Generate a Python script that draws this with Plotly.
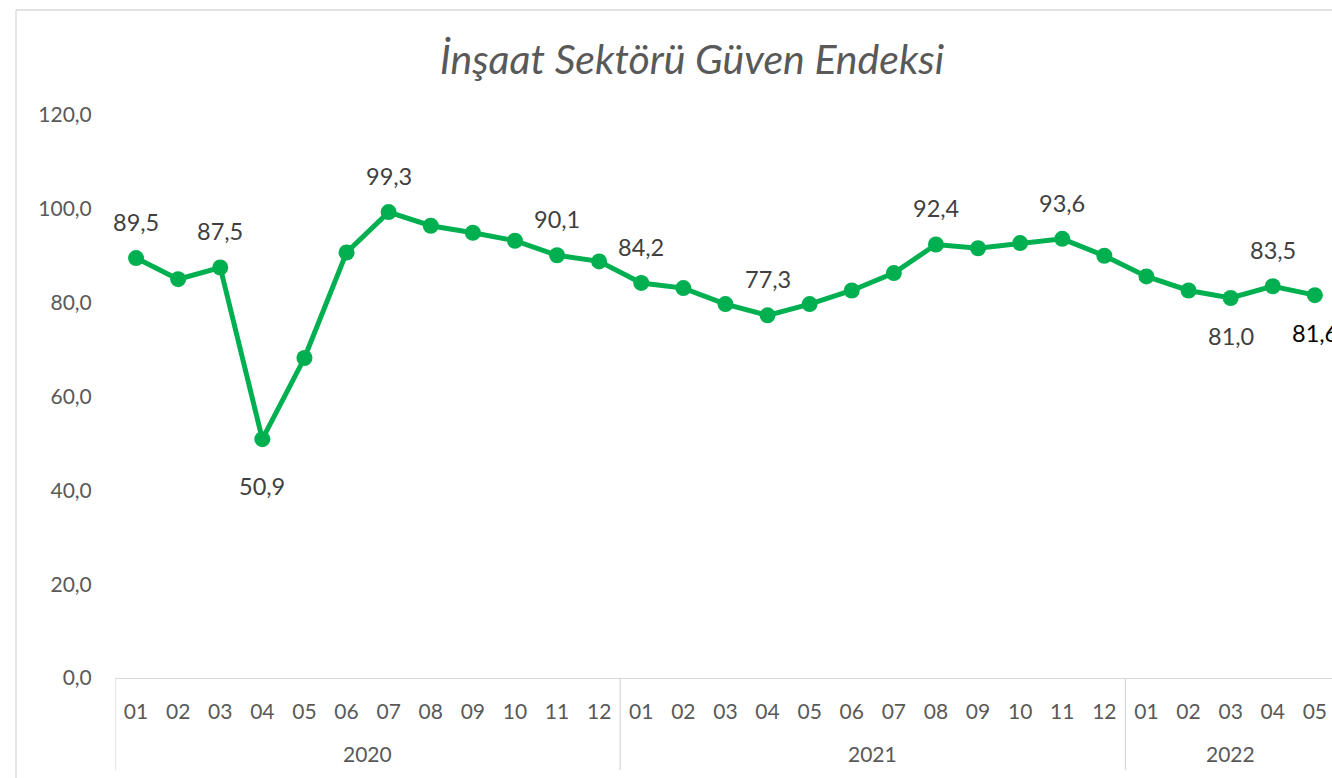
import plotly.graph_objects as go

months = ["01","02","03","04","05","06","07","08","09","10","11","12",
          "01","02","03","04","05","06","07","08","09","10","11","12",
          "01","02","03","04","05"]
years = ["2020", "2021", "2022"]
year_counts = [12, 12, 5]
values = [89.5, 85.0, 87.5, 50.9, 68.2, 90.7, 99.3, 96.4, 94.9, 93.2, 90.1, 88.8,
          84.2, 83.1, 79.7, 77.3, 79.7, 82.6, 86.3, 92.4, 91.6, 92.7, 93.6, 90.0,
          85.6, 82.6, 81.0, 83.5, 81.6]
# indices of points that carry a data label, and whether label sits above (1) or below (-1)
label_idx = [0, 2, 3, 6, 10, 12, 15, 19, 22, 26, 27, 28]
label_side = [1, 1, -1, 1, 1, 1, 1, 1, 1, -1, 1, -1]

W, H = 1332, 778
L, R, T, B = 115, 0, 115, 778 - 678
pw, ph = W - L - R, H - T - B
plot_bottom = 678
FONT = "Lato"
GREY = "#595959"
CAT_W = 42.1

x = list(range(len(values)))

fig = go.Figure()
fig.add_trace(go.Scatter(
    x=x, y=values, mode="lines+markers",
    line=dict(color="#00B050", width=5),
    marker=dict(color="#00B050", size=16),
    hoverinfo="skip", showlegend=False,
))

def fmt(v):
    return f"{v:.1f}".replace(".", ",")

for i, s in zip(label_idx, label_side):
    fig.add_annotation(
        x=x[i], y=values[i], text=fmt(values[i]), showarrow=False,
        yanchor="middle",
        yshift=36 if s > 0 else (-47 if values[i] < 60 else -38),
        font=dict(family=FONT, size=23.5, color="#000000" if i == len(values) - 1 else "#404040"),
    )

# year labels and dividers
start = 0
for yr, n in zip(years, year_counts):
    fig.add_annotation(
        x=start + (n - 1) / 2, y=(plot_bottom - 753) / ph, xref="x", yref="paper",
        text=yr, showarrow=False, yanchor="middle",
        font=dict(family=FONT, size=21, color=GREY),
    )
    fig.add_shape(type="line", xref="x", yref="paper",
                  x0=start - 0.5, x1=start - 0.5, y0=0, y1=(plot_bottom - 770) / ph,
                  line=dict(color="#d9d9d9", width=1.3))
    start += n

# outer chart border (left and top visible)
bx = (16 - L) / pw
by = (plot_bottom - 10) / ph
fig.add_shape(type="line", xref="paper", yref="paper", x0=bx, x1=bx, y0=-0.3, y1=by,
              line=dict(color="#d9d9d9", width=1.3))
fig.add_shape(type="line", xref="paper", yref="paper", x0=bx, x1=1.2, y0=by, y1=by,
              line=dict(color="#d9d9d9", width=1.3))

fig.update_layout(
    width=W, height=H,
    margin=dict(l=L, r=R, t=T, b=B),
    paper_bgcolor="white", plot_bgcolor="white",
    separators=",.",
    hovermode=False,
    title=dict(text="<i>İnşaat Sektörü Güven Endeksi</i>",
               x=692 / W, xanchor="center", y=1 - 60 / H, yanchor="middle",
               font=dict(family=FONT, size=41, color=GREY)),
    font=dict(family=FONT, size=21, color=GREY),
    xaxis=dict(
        range=[-0.5, -0.5 + pw / CAT_W],
        tickmode="array", tickvals=x, ticktext=months,
        showgrid=False, zeroline=False,
        showline=True, linecolor="#d9d9d9", linewidth=1.3,
        ticks="outside", ticklen=14, tickcolor="rgba(0,0,0,0)",
        tickfont=dict(family=FONT, size=21, color=GREY),
        fixedrange=True,
    ),
    yaxis=dict(
        range=[0, 120], tickmode="array", tickvals=[0, 20, 40, 60, 80, 100, 120],
        tickformat=".1f", showgrid=False, zeroline=False, showline=False,
        ticks="outside", ticklen=18, tickcolor="rgba(0,0,0,0)",
        tickfont=dict(family=FONT, size=21, color=GREY),
        fixedrange=True,
    ),
)

fig.write_html(
    "out.html",
    config={"displayModeBar": False, "staticPlot": True},
    post_script="document.body.style.margin='0';document.body.style.overflow='hidden';",
)
